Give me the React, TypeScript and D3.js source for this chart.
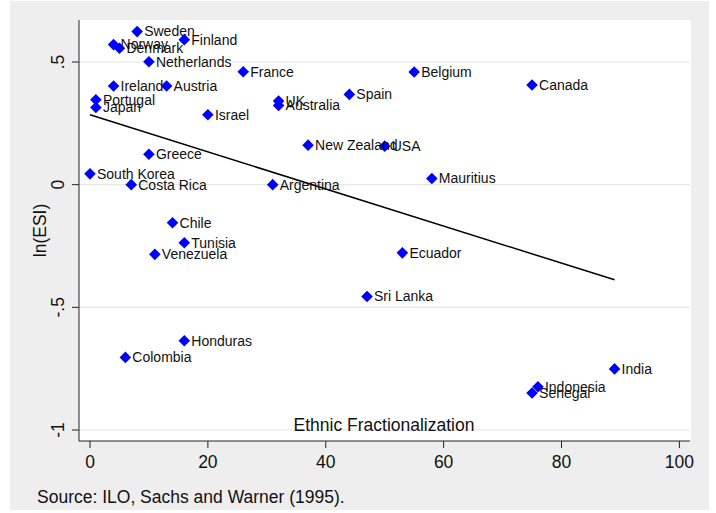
import React from "react";
import * as d3 from "d3";

const countries = ["Sweden","Finland","Norway","Denmark","Netherlands","France","Ireland","Austria","Portugal","Japan","Israel","UK","Australia","Greece","South Korea","Costa Rica","Argentina","Spain","Belgium","Canada","New Zealand","USA","Mauritius","Ecuador","Sri Lanka","India","Indonesia","Senegal","Chile","Tunisia","Venezuela","Honduras","Colombia"];
const ethnicFrac = [8,16,4,5,10,26,4,13,1,1,20,32,32,10,0,7,31,44,55,75,37,50,58,53,47,89,76,75,14,16,11,16,6];
const lnESI = [0.624,0.591,0.571,0.556,0.501,0.46,0.402,0.402,0.346,0.315,0.285,0.341,0.323,0.124,0.044,0.0,0.0,0.368,0.459,0.406,0.161,0.157,0.025,-0.278,-0.456,-0.751,-0.824,-0.849,-0.155,-0.237,-0.284,-0.636,-0.704];

const xTicks = [0,20,40,60,80,100];
const yTicks = [-1,-0.5,0,0.5];
const yTickLabels = ["-1","-.5","0",".5"];
const fitX = [0, 89];
const fitIntercept = 0.285;
const fitSlope = -0.00756;

const W = 716, H = 513;
const plot = { left: 79, right: 691, top: 20, bottom: 441 };
const FONT = "'Liberation Sans', Arial, Helvetica, sans-serif";

export default function App() {
  const x = d3.scaleLinear().domain([0, 100]).range([90, 679.4]);
  const y = d3.scaleLinear().domain([-1, 0.5]).range([430, 62]);
  const r = 5.8;
  const diamond = `M0,${-r}L${r},0L0,${r}L${-r},0Z`;
  const line = d3.line<number>().x((d) => x(d)).y((d) => y(fitIntercept + fitSlope * d));
  const data = countries.map((c, i) => ({ c, x: ethnicFrac[i], y: lnESI[i] }));

  return (
    <svg width={W} height={H} style={{ position: "absolute", left: 0, top: 0 }} fontFamily={FONT}>
      <rect x={0} y={0} width={W} height={H} fill="#fff" />
      <rect x={10} y={1} width={699} height={509} fill="#eeeeee" />
      <rect x={plot.left} y={plot.top} width={plot.right - plot.left} height={plot.bottom - plot.top} fill="#fff" />
      {yTicks.map((t) => (
        <line key={"g" + t} x1={plot.left} x2={plot.right - 1} y1={y(t)} y2={y(t)} stroke="#e6e6e6" strokeWidth={1.2} />
      ))}
      <text x={(plot.left + plot.right) / 2 - 1} y={431} textAnchor="middle" fontSize={17.5} fill="#111">Ethnic Fractionalization</text>
      <path d={line(fitX) || ""} fill="none" stroke="#000" strokeWidth={1.5} />
      {data.map((d) => (
        <path key={"m" + d.c} d={diamond} transform={`translate(${x(d.x)},${y(d.y)})`} fill="#0000ff" />
      ))}
      {data.map((d) => (
        <text key={"t" + d.c} x={x(d.x) + 7} y={y(d.y)} dy="0.35em" fontSize={14} fill="#111">{d.c}</text>
      ))}
      {/* axes */}
      <line x1={plot.left} x2={plot.left} y1={plot.top} y2={plot.bottom} stroke="#222" strokeWidth={1} />
      <line x1={plot.left} x2={plot.right - 1} y1={plot.bottom} y2={plot.bottom} stroke="#222" strokeWidth={1} />
      {yTicks.map((t, i) => (
        <g key={"yt" + t}>
          <line x1={plot.left - 7} x2={plot.left} y1={y(t)} y2={y(t)} stroke="#222" />
          <text transform={`translate(64,${y(t)}) rotate(-90)`} textAnchor="middle" fontSize={17.5} fill="#111">{yTickLabels[i]}</text>
        </g>
      ))}
      {xTicks.map((t) => (
        <g key={"xt" + t}>
          <line x1={x(t)} x2={x(t)} y1={plot.bottom} y2={plot.bottom + 7} stroke="#222" />
          <text x={x(t)} y={468} textAnchor="middle" fontSize={17.5} fill="#111">{t}</text>
        </g>
      ))}
      <text transform={`translate(46,${(plot.top + plot.bottom) / 2}) rotate(-90)`} textAnchor="middle" fontSize={17.5} fill="#111">ln(ESI)</text>
      <text x={37} y={503} fontSize={17.5} fill="#111">Source: ILO, Sachs and Warner (1995).</text>
    </svg>
  );
}
